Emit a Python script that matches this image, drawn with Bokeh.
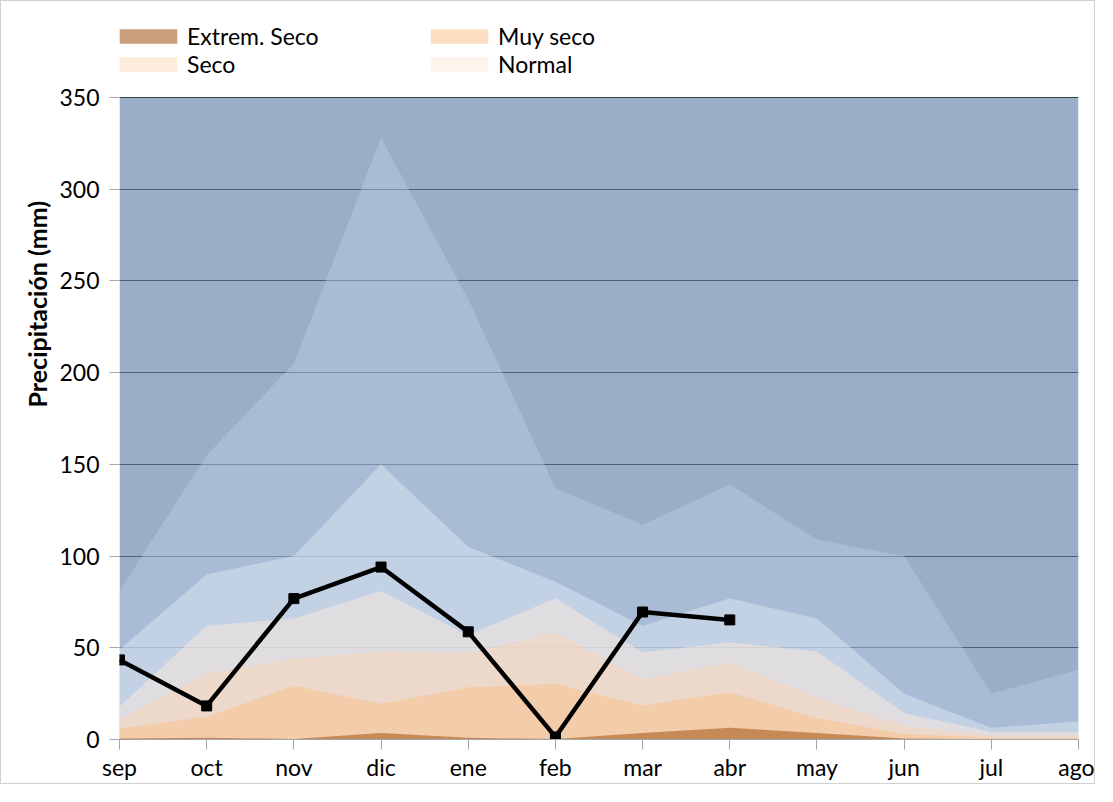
from bokeh.plotting import figure
from bokeh.models import Range1d, FixedTicker, Legend, LegendItem, Title
from bokeh.embed import file_html
from bokeh.resources import INLINE

# ---------------- data ----------------
meses = ["sep", "oct", "nov", "dic", "ene", "feb", "mar", "abr", "may", "jun", "jul", "ago"]
extrem_humedo = [350, 350, 350, 350, 350, 350, 350, 350, 350, 350, 350, 350]
muy_humedo = [81, 155, 205, 328, 240, 137, 117, 139, 109, 100, 25, 38]
humedo = [49, 90, 100, 150, 105, 86, 62, 77, 66, 25, 6.4, 9.8]
normal = [18, 62, 66, 81, 57, 77, 47.5, 53, 48, 14.5, 4.1, 4.1]
seco = [10.6, 36, 44, 48, 47, 58, 33, 42, 23, 7.5, 2.3, 2.3]
muy_seco = [6, 12.4, 29.3, 19.5, 28.5, 30.3, 18.6, 25.7, 11.7, 3, 0.9, 0.9]
extrem_seco = [0.5, 1, 0.3, 3.5, 0.9, 0.3, 3.5, 6.4, 3.5, 0.5, 0.2, 0.2]
precip_meses = ["sep", "oct", "nov", "dic", "ene", "feb", "mar", "abr"]
precip = [43.4, 18.3, 76.8, 94, 58.7, 1.4, 69.5, 65.2]
y_ticks = [0, 50, 100, 150, 200, 250, 300, 350]

xs = list(range(len(meses)))
px = [meses.index(m) for m in precip_meses]

FONT = "Lato"
# frame extends above the 350 line to host the legend (white area)
Y_TOP = 397.4

p = figure(width=1095, height=784, output_backend="svg", toolbar_location=None,
           x_range=Range1d(0, len(meses) - 1), y_range=Range1d(0, Y_TOP),
           min_border_left=118, min_border_right=18, min_border_top=9, min_border_bottom=46,
           background_fill_color="white", border_fill_color="white")
p.styles = {"border": "1px solid #D0D0D0"}
p.outline_line_color = None

# layers (semi-transparent, overlapping from zero)
p.varea(x=xs, y1=0, y2=extrem_humedo, fill_color="#6482AA", fill_alpha=0.65)
p.varea(x=xs, y1=0, y2=muy_humedo, fill_color="#BFD1EB", fill_alpha=0.4)
p.varea(x=xs, y1=0, y2=humedo, fill_color="#DDE6F4", fill_alpha=0.5)
r_normal = p.varea(x=xs, y1=0, y2=normal, fill_color="#FBE9D9", fill_alpha=0.5)
r_seco = p.varea(x=xs, y1=0, y2=seco, fill_color="#F9D5B7", fill_alpha=0.5)
r_muy = p.varea(x=xs, y1=0, y2=muy_seco, fill_color="#FABF87", fill_alpha=0.5)
r_ext = p.varea(x=xs, y1=0, y2=extrem_seco, fill_color="#A85E25", fill_alpha=0.6)

# observed precipitation
p.line(x=px, y=precip, line_color="black", line_width=4.5)
p.scatter(x=px, y=precip, marker="square", size=10, fill_color="black", line_color="black")

# grid
p.xgrid.grid_line_color = None
p.ygrid.grid_line_color = "#222222"
p.ygrid.grid_line_width = 1.2
p.ygrid.ticker = FixedTicker(ticks=y_ticks)

# axes
p.xaxis.ticker = FixedTicker(ticks=xs)
p.xaxis.major_label_overrides = {i: m for i, m in enumerate(meses)}
p.yaxis.ticker = FixedTicker(ticks=y_ticks)
for ax in (p.xaxis[0], p.yaxis[0]):
    ax.axis_line_color = "#A6A6A6"
    ax.axis_line_width = 1
    ax.major_tick_line_color = "#A6A6A6"
    ax.major_tick_out = 10
    ax.major_tick_in = 0
    ax.minor_tick_line_color = None
    ax.major_label_text_font = FONT
    ax.major_label_text_font_size = "23px"
    ax.major_label_text_color = "black"
p.yaxis.axis_line_color = None
p.xaxis.major_label_standoff = 3
p.yaxis.major_label_standoff = 10

# y-axis title, placed along the left side (centred on the 0-350 band like the original)
p.add_layout(Title(text="Precipitación (mm)", align="left", offset=332, standoff=10,
                   text_font=FONT, text_font_style="bold", text_font_size="25px",
                   text_color="black"), "left")

legend = Legend(items=[
    LegendItem(label="Extrem. Seco", renderers=[r_ext]),
    LegendItem(label="Muy seco", renderers=[r_muy]),
    LegendItem(label="Seco", renderers=[r_seco]),
    LegendItem(label="Normal", renderers=[r_normal]),
], location=(-7, 661), orientation="horizontal", ncols=2,
    glyph_width=72, glyph_height=18, label_standoff=3, label_width=236,
    label_height=22, spacing=0, padding=0, margin=0,
    label_text_font=FONT, label_text_font_size="23px", label_text_color="black",
    border_line_color=None, background_fill_alpha=0)
p.add_layout(legend, "center")

open("out.html", "w").write(file_html(p, INLINE))
